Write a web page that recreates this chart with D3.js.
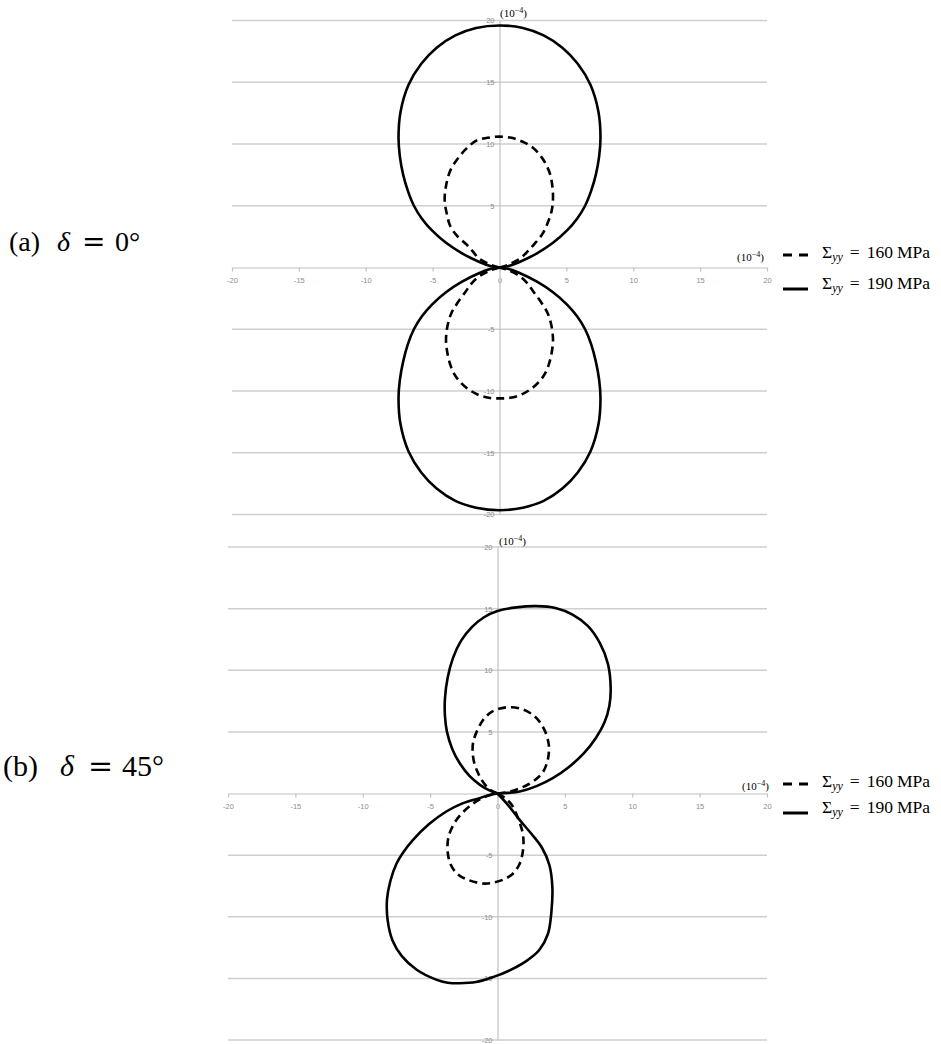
<!DOCTYPE html>
<meta charset="utf-8">
<style>
body { margin: 0; background: #fff; }
.grid line { stroke: #cfcfcf; stroke-width: 1.5; }
.axis path, .axis line { stroke: #c2c2c2; stroke-width: 1.2; }
.axis text { fill: #8c8c8c; font-family: "Liberation Sans", sans-serif; font-size: 7.5px; }
.curve { fill: none; stroke: #000; stroke-width: 2.6; }
.dashed { stroke-dasharray: 8,5; }
.tex { font-family: "Liberation Serif", serif; fill: #000; }
</style>
<svg width="941" height="1044"></svg>
<script src="https://cdn.jsdelivr.net/npm/d3@7"></script>
<script>

var xTicks = [-20, -15, -10, -5, 0, 5, 10, 15, 20],
    yTicks = [-20, -15, -10, -5, 5, 10, 15, 20],
    gridValues = [-20, -15, -10, -5, 0, 5, 10, 15, 20];

var panelLabels = ["(a)", "(b)"],
    deltaLabels = ["0°", "45°"],
    stressLabels = ["160", "190"];

// (a) delta = 0 : each lobe starts at the origin, goes round and comes back
var a160Upper = [[0,0],[0.6,0.2],[1.5,0.7],[2.1,1.3],[2.6,1.9],[3.2,2.7],[3.6,3.6],[3.9,4.6],[4.0,5.6],[3.95,6.6],[3.8,7.5],
                 [3.5,8.3],[3.1,9.0],[2.5,9.7],[1.7,10.2],[0.9,10.5],[0,10.6],[-0.9,10.5],[-1.7,10.3],[-2.5,9.6],[-3.2,8.7],
                 [-3.7,7.8],[-4.0,6.6],[-4.1,5.4],[-3.95,4.4],[-3.7,3.4],[-3.2,2.6],[-2.5,1.9],[-2.0,1.3],[-1.5,0.7],[-0.6,0.2],[0,0]];
var a160Lower = [[0,0],[-0.6,-0.2],[-1.5,-0.7],[-2.1,-1.3],[-2.5,-1.9],[-3.1,-2.8],[-3.6,-3.7],[-3.9,-4.8],[-4.0,-5.9],[-3.9,-6.9],
                 [-3.7,-7.8],[-3.4,-8.6],[-3.0,-9.2],[-2.4,-9.8],[-1.6,-10.3],[-0.8,-10.55],[0,-10.6],[0.8,-10.55],[1.6,-10.3],
                 [2.4,-9.8],[3.0,-9.2],[3.4,-8.6],[3.7,-7.8],[3.9,-6.9],[4.0,-5.9],[3.9,-4.8],[3.6,-3.7],[3.1,-2.8],[2.5,-1.9],
                 [2.1,-1.3],[1.5,-0.7],[0.6,-0.2],[0,0]];
var a190Upper = [[0,0],[0.7,0.13],[1.5,0.45],[2.8,1.15],[4.0,2.0],[5.05,3.0],[5.8,3.95],[6.4,5.0],[6.85,6.2],[7.2,7.5],[7.45,9.0],
                 [7.55,10.5],[7.4,12.6],[6.8,14.8],[5.85,16.5],[4.7,17.8],[3.3,18.8],[1.75,19.4],[0,19.6],[-1.75,19.4],
                 [-3.3,18.8],[-4.7,17.8],[-5.85,16.5],[-6.8,14.8],[-7.4,12.6],[-7.55,10.5],[-7.45,9.0],[-7.2,7.5],[-6.85,6.2],
                 [-6.4,5.0],[-5.8,3.95],[-5.05,3.0],[-4.0,2.0],[-2.8,1.15],[-1.5,0.45],[-0.7,0.13],[0,0]];
var a190Lower = [[0,0],[-0.7,-0.13],[-1.5,-0.45],[-2.8,-1.15],[-4.0,-2.0],[-5.05,-3.0],[-5.8,-3.95],[-6.4,-5.0],[-6.85,-6.2],
                 [-7.2,-7.6],[-7.45,-9.1],[-7.55,-10.6],[-7.4,-12.7],[-6.8,-14.9],[-5.85,-16.6],[-4.7,-17.9],[-3.3,-18.9],
                 [-1.75,-19.45],[0,-19.65],[1.75,-19.45],[3.3,-18.9],[4.7,-17.9],[5.85,-16.6],[6.8,-14.9],[7.4,-12.7],
                 [7.55,-10.6],[7.45,-9.1],[7.2,-7.6],[6.85,-6.2],[6.4,-5.0],[5.8,-3.95],[5.05,-3.0],[4.0,-2.0],[2.8,-1.15],
                 [1.5,-0.45],[0.7,-0.13],[0,0]];

// (b) delta = 45
var b160Upper = [[0,0],[0.8,0.12],[1.6,0.4],[2.3,0.75],[2.9,1.2],[3.35,1.7],[3.65,2.4],[3.8,3.2],[3.8,4.0],[3.55,5.0],
                 [3.1,5.85],[2.6,6.4],[1.8,6.85],[0.9,7.0],[0.2,6.9],[-0.4,6.65],[-0.85,6.25],[-1.2,5.75],[-1.55,5.0],
                 [-1.8,4.2],[-1.85,3.5],[-1.75,2.6],[-1.5,1.8],[-1.15,1.05],[-0.6,0.35],[0,0]];
var b160Lower = [[0,0],[0.6,-0.4],[1.14,-1.06],[1.55,-2.1],[1.85,-3.1],[1.93,-3.9],[1.85,-4.9],[1.6,-5.8],[1.1,-6.55],
                 [0.4,-7.0],[-0.4,-7.25],[-1.1,-7.3],[-2.2,-7.0],[-3.0,-6.5],[-3.5,-5.7],[-3.7,-4.7],[-3.65,-3.6],
                 [-3.3,-2.6],[-2.8,-1.8],[-2.1,-1.05],[-1.35,-0.5],[-0.6,-0.15],[0,0]];
var b190Upper = [[0,0],[0.8,0.05],[1.64,0.16],[2.9,0.6],[4.1,1.24],[5.3,2.15],[6.4,3.25],[7.3,4.5],[7.95,5.8],[8.3,7.1],
                 [8.4,8.5],[8.2,10.5],[7.6,12.2],[6.7,13.6],[5.6,14.5],[4.3,15.05],[2.9,15.2],[1.4,15.1],[0,14.8],[-1.0,14.3],
                 [-1.9,13.5],[-2.7,12.4],[-3.3,11.0],[-3.7,9.4],[-3.9,7.7],[-3.9,6.3],[-3.75,5.0],[-3.35,3.6],[-2.8,2.45],
                 [-2.1,1.45],[-1.3,0.7],[-0.6,0.25],[0,0]];
var b190Lower = [[0,0],[0.77,-0.92],[1.64,-2.14],[2.5,-3.25],[3.3,-4.4],[3.85,-5.8],[4.07,-7.56],[4.0,-9.6],[3.74,-11.4],
                 [3.1,-12.7],[2.13,-13.6],[0.9,-14.35],[-0.35,-14.9],[-1.6,-15.3],[-2.8,-15.4],[-3.7,-15.35],[-4.55,-15.1],
                 [-6.0,-14.3],[-7.1,-13.2],[-7.8,-11.9],[-8.15,-10.3],[-8.2,-8.6],[-7.95,-7.1],[-7.5,-5.7],[-6.95,-4.7],
                 [-6.3,-3.8],[-5.1,-2.5],[-3.8,-1.46],[-2.6,-0.8],[-1.35,-0.38],[-0.6,-0.12],[0,0]];

var panels = [
  {x0: 232, x1: 767, yTop: 20.5, yBot: 514.5, label: 251, legend: [255, 289], curves: [a160Upper, a160Lower, a190Upper, a190Lower],
   unitTop: [500, 17], unitRight: [737, 261], capSize: 28, capX: [9, 57, 82, 115]},
  {x0: 228, x1: 767, yTop: 547, yBot: 1040, label: 776, legend: [784, 813], curves: [b160Upper, b160Lower, b190Upper, b190Lower],
   unitTop: [499, 545], unitRight: [742, 790], capSize: 30, capX: [3, 60, 88, 122]}
];

var svg = d3.select("svg");

function unitText(g, pos) {
  var t = g.append("text").attr("class", "tex").attr("x", pos[0]).attr("y", pos[1]).attr("font-size", 11);
  t.append("tspan").text("(10");
  t.append("tspan").attr("font-size", 8).attr("dy", -4).text("−4");
  t.append("tspan").attr("dy", 4).text(")");
}

panels.forEach(function(p, i) {
  var x = d3.scaleLinear().domain([-20, 20]).range([p.x0, p.x1]),
      y = d3.scaleLinear().domain([-20, 20]).range([p.yBot, p.yTop]);

  var g = svg.append("g");

  g.append("g").attr("class", "grid")
    .selectAll("line").data(gridValues.filter(function(d) { return d !== 0; }))
    .enter().append("line")
      .attr("x1", p.x0).attr("x2", p.x1)
      .attr("y1", function(d) { return y(d); }).attr("y2", function(d) { return y(d); });

  g.append("g").attr("class", "axis")
      .attr("transform", "translate(0," + y(0) + ")")
      .call(d3.axisBottom(x).tickValues(xTicks).tickSize(4).tickSizeOuter(0).tickPadding(6)
        .tickFormat(function(d) { return String(d); }));

  g.append("g").attr("class", "axis")
      .attr("transform", "translate(" + x(0) + ",0)")
      .call(d3.axisLeft(y).tickValues(yTicks).tickSize(0).tickSizeOuter(0).tickPadding(5)
        .tickFormat(function(d) { return String(d); }));

  var line = d3.line()
      .x(function(d) { return x(d[0]); })
      .y(function(d) { return y(d[1]); })
      .curve(d3.curveCatmullRom.alpha(0.5));

  p.curves.forEach(function(c, j) {
    g.append("path").attr("class", j < 2 ? "curve dashed" : "curve").attr("d", line(c));
  });

  unitText(g, p.unitTop);
  unitText(g, p.unitRight);

  // legend
  stressLabels.forEach(function(s, j) {
    var ly = p.legend[j];
    g.append("line").attr("class", j === 0 ? "curve dashed" : "curve")
      .attr("x1", 783).attr("x2", 808).attr("y1", ly).attr("y2", ly)
      .style("stroke-width", 3).style("stroke-dasharray", j === 0 ? "9,7" : null);
    var t = g.append("text").attr("class", "tex").attr("x", 822).attr("y", ly + (j === 0 ? 3 : 0)).attr("font-size", 17.5);
    t.append("tspan").text("Σ");
    t.append("tspan").attr("font-size", 12).attr("font-style", "italic").attr("dy", 3).text("yy");
    t.append("tspan").attr("dy", -3).attr("dx", 7).text("=");
    t.append("tspan").attr("dx", 7).text(s);
    t.append("tspan").attr("dx", 4).text("MPa");
  });

  // panel caption
  var c = g.append("text").attr("class", "tex").attr("y", p.label).attr("font-size", p.capSize);
  c.append("tspan").attr("x", p.capX[0]).text(panelLabels[i]);
  c.append("tspan").attr("x", p.capX[1]).attr("font-style", "italic").text("δ");
  c.append("tspan").attr("x", p.capX[2]).style("font-family", "DejaVu Serif").text("=");
  c.append("tspan").attr("x", p.capX[3]).text(deltaLabels[i]);
});

</script>
